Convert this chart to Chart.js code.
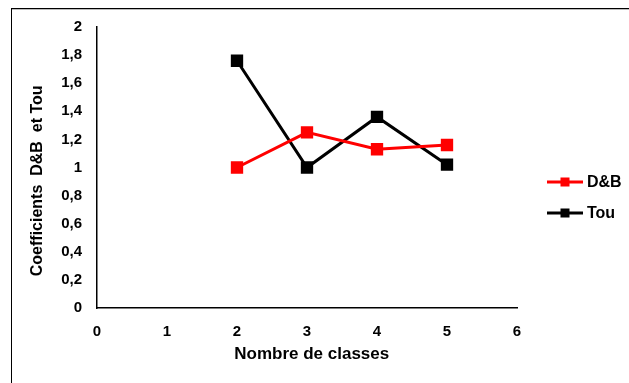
<!DOCTYPE html>
<html><head><meta charset="utf-8">
<script src="https://cdn.jsdelivr.net/npm/chart.js@4"></script>
<style>html,body{margin:0;padding:0;background:#fff}#wrap{width:629px;height:383px}</style>
</head><body><div id="wrap"><canvas id="c" width="629" height="383"></canvas></div>
<script>
const xValues = [2, 3, 4, 5];
const dbValues = [1.0, 1.25, 1.13, 1.16];
const touValues = [1.76, 1.0, 1.36, 1.02];
const seriesLabels = ['D&B', 'Tou'];
const xTitle = '  Nombre de classes';
const yTitle = 'Coefficients  D&B  et Tou      ';

const FONT = "'Liberation Sans', Arial, sans-serif";

const framePlugin = {
  id: 'frame',
  beforeDraw(chart) {
    const ctx = chart.ctx;
    ctx.save();
    ctx.strokeStyle = '#000';
    ctx.lineWidth = 1;
    ctx.strokeRect(11.5, 8.5, 700, 500);
    ctx.strokeStyle = '#bbb';
    ctx.beginPath();
    ctx.moveTo(12, 9.5); ctx.lineTo(700, 9.5);
    ctx.stroke();
    ctx.restore();
  },
  afterDraw(chart) {
    const ctx = chart.ctx;
    const ca = chart.chartArea;
    ctx.save();
    chart.data.datasets.forEach((ds, i) => {
      const y = ca.top + 155 + i * 31;
      const x0 = ca.right + 30;
      ctx.strokeStyle = ds.borderColor;
      ctx.lineWidth = 3;
      ctx.beginPath();
      ctx.moveTo(x0, y);
      ctx.lineTo(x0 + 36, y);
      ctx.stroke();
      ctx.fillStyle = ds.borderColor;
      ctx.fillRect(x0 + 13.5, y - 4.5, 9, 9);
      ctx.fillStyle = '#000';
      ctx.font = "bold 16px " + FONT;
      ctx.textBaseline = 'middle';
      ctx.textAlign = 'left';
      ctx.fillText(ds.label, x0 + 40, y + 1);
    });
    ctx.restore();
  }
};

new Chart(document.getElementById('c'), {
  type: 'line',
  data: {
    datasets: [
      { label: seriesLabels[0], data: xValues.map((x, i) => ({x, y: dbValues[i]})),
        borderColor: '#ff0000', backgroundColor: '#ff0000', borderWidth: 3,
        pointStyle: 'rect', pointRadius: 6.6, pointHoverRadius: 6.6 },
      { label: seriesLabels[1], data: xValues.map((x, i) => ({x, y: touValues[i]})),
        borderColor: '#000000', backgroundColor: '#000000', borderWidth: 3,
        pointStyle: 'rect', pointRadius: 6.6, pointHoverRadius: 6.6 }
    ]
  },
  options: {
    responsive: false,
    animation: false,
    layout: { padding: { left: 20, top: 27, right: 112, bottom: 0 } },
    plugins: { legend: { display: false }, tooltip: { enabled: false } },
    scales: {
      x: {
        type: 'linear', min: 0, max: 6,
        afterFit(s) { s.height = 75; },
        ticks: { stepSize: 1, color: '#000', padding: 10, font: { family: FONT, size: 15, weight: 'bold' } },
        grid: { display: false, drawTicks: true, tickLength: 5, tickColor: '#000' },
        border: { display: true, color: '#000', width: 1.5 },
        title: { display: true, text: xTitle, color: '#000', padding: { top: 0, bottom: 18 }, font: { family: FONT, size: 17, weight: 'bold' } }
      },
      y: {
        min: 0, max: 2,
        afterFit(s) { s.width = 77; },
        ticks: { stepSize: 0.2, color: '#000', padding: 10,
          callback: v => (Math.round(v * 10) / 10).toString().replace('.', ','),
          font: { family: FONT, size: 15, weight: 'bold' } },
        grid: { display: false, drawTicks: true, tickLength: 5, tickColor: '#000' },
        border: { display: true, color: '#000', width: 1.5 },
        title: { display: true, text: yTitle, color: '#000', padding: { top: 8, bottom: 0 }, font: { family: FONT, size: 16, weight: 'bold' } }
      }
    }
  },
  plugins: [framePlugin]
});
</script>
</body></html>
